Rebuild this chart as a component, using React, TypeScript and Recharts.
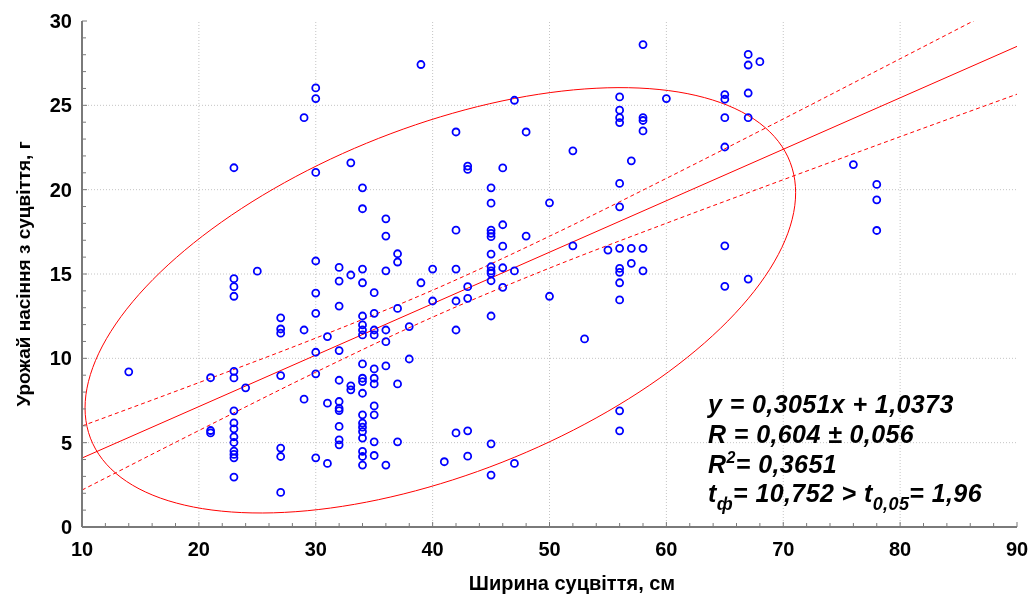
import React from "react"
import {
  ComposedChart,
  Scatter,
  Line,
  XAxis,
  YAxis,
  ReferenceLine,
} from "recharts"

// ширина суцвіття (см) — колонки точок
const widthCols = [14, 21, 23, 24, 25, 27, 29, 30, 31, 32, 33, 34, 35, 36, 37, 38, 39, 40, 41, 42, 43, 45, 46, 47, 48, 50, 52, 53, 55, 56, 57, 58, 60, 65, 67, 68, 76, 78]

// урожай насіння (г) для кожної колонки
const yieldByCol = [
  [9.2],
  [8.85, 5.72, 5.58],
  [21.3, 14.72, 14.25, 13.68, 9.23, 8.84, 6.89, 6.17, 5.82, 5.35, 5.01, 4.5, 4.3, 4.1, 2.96],
  [8.25],
  [15.17],
  [12.4, 11.74, 11.49, 8.98, 4.68, 4.18, 2.05],
  [24.27, 11.68, 7.58],
  [26.03, 25.4, 21.02, 15.77, 13.87, 12.67, 10.36, 9.08, 4.1],
  [11.29, 7.34, 3.77],
  [15.39, 14.58, 13.1, 10.46, 8.7, 7.44, 7.04, 6.9, 5.96, 5.17, 4.87],
  [21.59, 14.94, 8.37, 8.13],
  [20.11, 18.87, 15.29, 14.48, 12.51, 11.98, 11.68, 11.39, 9.67, 8.82, 8.62, 7.93, 6.65, 6.16, 5.92, 5.66, 5.27, 4.48, 4.18, 3.67],
  [13.89, 12.67, 11.68, 11.39, 9.37, 8.82, 8.48, 7.18, 6.65, 5.05, 4.24],
  [18.27, 17.25, 15.19, 11.68, 10.99, 9.55, 3.67],
  [16.2, 15.71, 12.96, 8.48, 5.05],
  [11.88, 9.96],
  [27.42, 14.48],
  [15.29, 13.4],
  [3.87],
  [23.42, 17.6, 15.29, 13.4, 11.68, 5.58],
  [21.4, 21.2, 14.25, 13.56, 5.7, 4.2],
  [20.11, 19.2, 17.6, 17.41, 17.21, 16.18, 15.43, 15.18, 15.04, 14.6, 12.51, 4.93, 3.08],
  [21.29, 17.92, 16.65, 15.37, 14.21],
  [25.3, 15.18, 3.77],
  [23.42, 17.25],
  [19.22, 13.68],
  [22.3, 16.67],
  [11.15],
  [16.42],
  [25.5, 24.71, 24.27, 23.98, 20.37, 18.98, 16.52, 15.33, 15.1, 14.48, 13.46, 6.89, 5.7],
  [21.71, 16.52, 15.63],
  [28.6, 24.27, 24.1, 23.48, 16.52, 15.19],
  [25.4],
  [25.64, 25.36, 24.27, 22.53, 16.67, 14.27],
  [28.02, 27.39, 25.73, 24.27, 14.7],
  [27.59],
  [21.49],
  [20.31, 19.4, 17.58],
]

// регресія y = 0,3051x + 1,0373
const slope = 0.3051
const intercept = 1.0373
const regX = [10, 90]

// довірчі межі
const bandX = [10, 20, 30, 40, 50, 60, 70, 80, 90]
const bandUpper = [5.99, 8.56, 11.2, 14.04, 17.24, 20.67, 24.19, 27.76, 31.34]
const bandLower = [2.19, 5.72, 9.18, 12.44, 15.35, 18.01, 20.59, 23.14, 25.66]

// еліпс: центр, півосі, фазовий зсув
const ellipseCenter = [40.66, 13.44]
const ellipseSpan = [30.4, 12.61]
const ellipsePhaseDeg = 59.6

const xMajor = [10, 20, 30, 40, 50, 60, 70, 80, 90]
const yMajor = [0, 5, 10, 15, 20, 25, 30]
const xTicks = Array.from({ length: 41 }, (_, i) => 10 + i * 2)
const yTicks = Array.from({ length: 31 }, (_, i) => i)

const points = widthCols.flatMap((x, i) => yieldByCol[i].map((y) => ({ x, y })))
const regData = regX.map((x) => ({ x, y: slope * x + intercept }))
const upperData = bandX.map((x, i) => ({ x, y: bandUpper[i] }))
const lowerData = bandX.map((x, i) => ({ x, y: bandLower[i] }))
const ellipseData = Array.from({ length: 181 }, (_, i) => {
  const t = (i / 180) * 2 * Math.PI
  const ph = (ellipsePhaseDeg * Math.PI) / 180
  return { x: ellipseCenter[0] + ellipseSpan[0] * Math.cos(t), y: ellipseCenter[1] + ellipseSpan[1] * Math.cos(t - ph) }
})

const AXIS = "#7a7a7a"
const FONT = "'Liberation Sans', Arial, sans-serif"
const RED = "#ff0000"

const BottomTick = (p: any) => {
  const { x, y, payload } = p
  const major = payload.value % 10 === 0
  return (
    <g>
      <line x1={x} x2={x} y1={y} y2={y - (major ? 5 : 4)} stroke={AXIS} />
      {major && (
        <text x={x} y={y + 29} textAnchor="middle" fontSize={20} fontWeight="bold" fontFamily={FONT} fill="#000">
          {payload.value}
        </text>
      )}
    </g>
  )
}

const TopTick = (p: any) => {
  const { x, y, payload } = p
  const major = payload.value % 10 === 0
  return <line x1={x} x2={x} y1={y} y2={y + (major ? 5 : 4)} stroke={AXIS} />
}

const LeftTick = (p: any) => {
  const { x, y, payload } = p
  const major = payload.value % 5 === 0
  return (
    <g>
      <line x1={x} x2={x + (major ? 5 : 4)} y1={y} y2={y} stroke={AXIS} />
      {major && (
        <text x={x - 10} y={y + 7} textAnchor="end" fontSize={20} fontWeight="bold" fontFamily={FONT} fill="#000">
          {payload.value}
        </text>
      )}
    </g>
  )
}

const RightTick = (p: any) => {
  const { x, y, payload } = p
  const major = payload.value % 5 === 0
  return <line x1={x} x2={x - (major ? 5 : 4)} y1={y} y2={y} stroke={AXIS} />
}

const Ring = (p: any) => <circle cx={p.cx} cy={p.cy} r={3.5} fill="none" stroke="#0000ff" strokeWidth={1.8} />

export default function App() {
  return (
    <div style={{ position: "fixed", left: 8, top: 8, width: 1023, height: 588 }}>
      <ComposedChart width={1023} height={588} margin={{ top: 13, right: 14, bottom: 0, left: 0 }}>
        <XAxis
          dataKey="x"
          type="number"
          domain={[10, 90]}
          ticks={xTicks}
          interval={0}
          height={69}
          tickSize={0}
          tickMargin={0}
          tick={BottomTick}
          axisLine={{ stroke: AXIS, strokeWidth: 2 }}
          allowDataOverflow
        />
        <XAxis
          xAxisId="top"
          orientation="top"
          dataKey="x"
          type="number"
          domain={[10, 90]}
          ticks={xTicks}
          interval={0}
          height={0}
          tickSize={0}
          tickMargin={0}
          tick={TopTick}
          axisLine={{ stroke: AXIS, strokeWidth: 2 }}
          allowDataOverflow
        />
        <YAxis
          type="number"
          domain={[0, 30]}
          ticks={yTicks}
          interval={0}
          width={74}
          tickSize={0}
          tickMargin={0}
          tick={LeftTick}
          axisLine={{ stroke: AXIS, strokeWidth: 2 }}
          allowDataOverflow
        />
        <YAxis
          yAxisId="right"
          orientation="right"
          type="number"
          domain={[0, 30]}
          ticks={yTicks}
          interval={0}
          width={0}
          tickSize={0}
          tickMargin={0}
          tick={RightTick}
          axisLine={{ stroke: AXIS, strokeWidth: 2 }}
          allowDataOverflow
        />
        {xMajor.slice(1, -1).map((v) => (
          <ReferenceLine key={"gx" + v} x={v} stroke="#c4c4c4" strokeDasharray="1 2" />
        ))}
        {yMajor.slice(1, -1).map((v) => (
          <ReferenceLine key={"gy" + v} y={v} stroke="#c4c4c4" strokeDasharray="1 2" />
        ))}
        <Line data={ellipseData} dataKey="y" type="linear" stroke={RED} strokeWidth={1} dot={false} isAnimationActive={false} />
        <Line data={upperData} dataKey="y" type="monotone" stroke={RED} strokeWidth={1} strokeDasharray="4 3" dot={false} isAnimationActive={false} />
        <Line data={lowerData} dataKey="y" type="monotone" stroke={RED} strokeWidth={1} strokeDasharray="4 3" dot={false} isAnimationActive={false} />
        <Line data={regData} dataKey="y" type="linear" stroke={RED} strokeWidth={1} dot={false} isAnimationActive={false} />
        <Scatter data={points} dataKey="y" shape={Ring} isAnimationActive={false} />
      </ComposedChart>
      <svg width={1023} height={588} style={{ position: "absolute", left: 0, top: 0, pointerEvents: "none" }}>
        <g fontFamily={FONT} fontWeight="bold" fill="#000">
          <text x={564} y={582} textAnchor="middle" fontSize={20}>
            Ширина суцвіття, см
          </text>
          <text transform="translate(22,266) rotate(-90)" textAnchor="middle" fontSize={19}>
            Урожай насіння з суцвіття, г
          </text>
          <g fontSize={25} fontStyle="italic" letterSpacing={0.4}>
            <text x={700} y={405}>y = 0,3051x + 1,0373</text>
            <text x={700} y={435}>R = 0,604 ± 0,056</text>
            <text x={700} y={465}>
              R<tspan dy={-10} fontSize={16}>2</tspan>
              <tspan dy={10}>= 0,3651</tspan>
            </text>
            <text x={700} y={494}>
              t<tspan dy={8} fontSize={18}>ф</tspan>
              <tspan dy={-8}>= 10,752 &gt; t</tspan>
              <tspan dy={8} fontSize={18}>0,05</tspan>
              <tspan dy={-8}>= 1,96</tspan>
            </text>
          </g>
        </g>
      </svg>
    </div>
  )
}
